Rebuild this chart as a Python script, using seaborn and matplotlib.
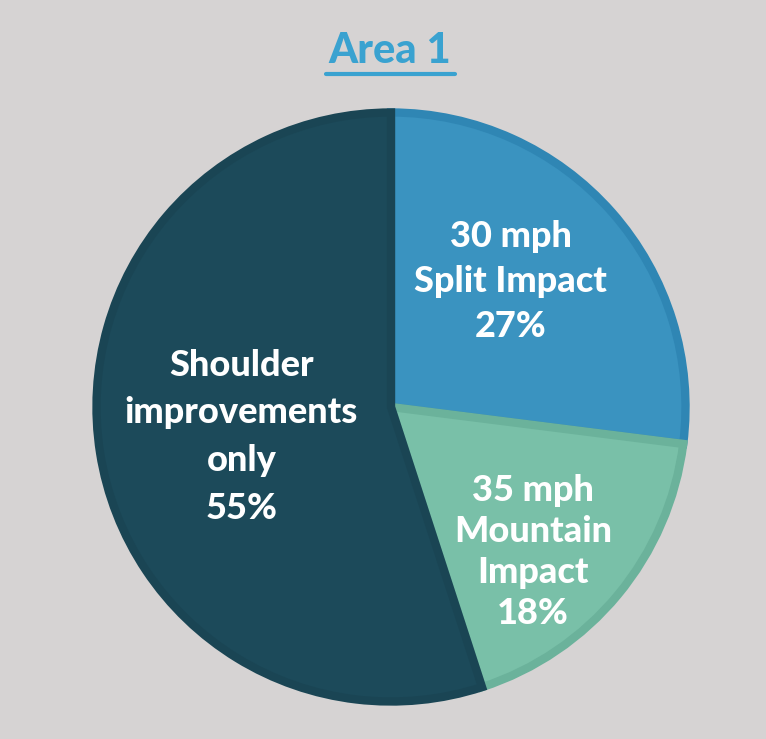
import numpy as np
import matplotlib.pyplot as plt
import seaborn as sns
from matplotlib.lines import Line2D

sns.set_theme(style="white")
plt.rcParams["font.family"] = ["Lato", "DejaVu Sans"]

## DATA
labels = ["30 mph\nSplit Impact", "35 mph\nMountain\nImpact", "Shoulder\nimprovements\nonly"]
shares = [27, 18, 55]
face_colors = ["#3a93c0", "#79c0a8", "#1c4a5a"]
edge_colors = ["#2f86b4", "#6bb29b", "#1a4554"]
label_xy = [(0.40, 0.42), (0.475, -0.485), (-0.50, -0.10)]
line_gap = [1.44, 1.3, 1.55]

BG = "#d6d3d3"

fig = plt.figure(figsize=(7.66, 7.39), dpi=100, facecolor=BG)
W, H = 766, 739
R = 299
cx, cy = 391, 739 - 407
ax = fig.add_axes([(cx - R) / W, (cy - R) / H, 2 * R / W, 2 * R / H])
ax.set_facecolor(BG)

wedges, _ = ax.pie(
    shares,
    colors=face_colors,
    startangle=90,
    counterclock=False,
    radius=0.985,
    wedgeprops=dict(linewidth=6, joinstyle="miter"),
)
for w, ec in zip(wedges, edge_colors):
    w.set_edgecolor(ec)

for lab, pct, (x, y), ls in zip(labels, shares, label_xy, line_gap):
    ax.text(x, y, f"{lab}\n{pct}%",
            ha="center", va="center", color="white", fontsize=26,
            fontweight="black", linespacing=ls)

ax.set_xlim(-1, 1)
ax.set_ylim(-1, 1)
ax.set_aspect("auto")
ax.axis("off")

fig.text(390 / W, 1 - 51 / H, "Area 1", ha="center", va="center",
         color="#3aa2d0", fontsize=30, fontweight="black")
fig.add_artist(Line2D([326 / W, 455 / W], [1 - 74 / H, 1 - 74 / H],
                      color="#3aa2d0", linewidth=3, transform=fig.transFigure))

fig.savefig("out.png", dpi=100, facecolor=BG)
